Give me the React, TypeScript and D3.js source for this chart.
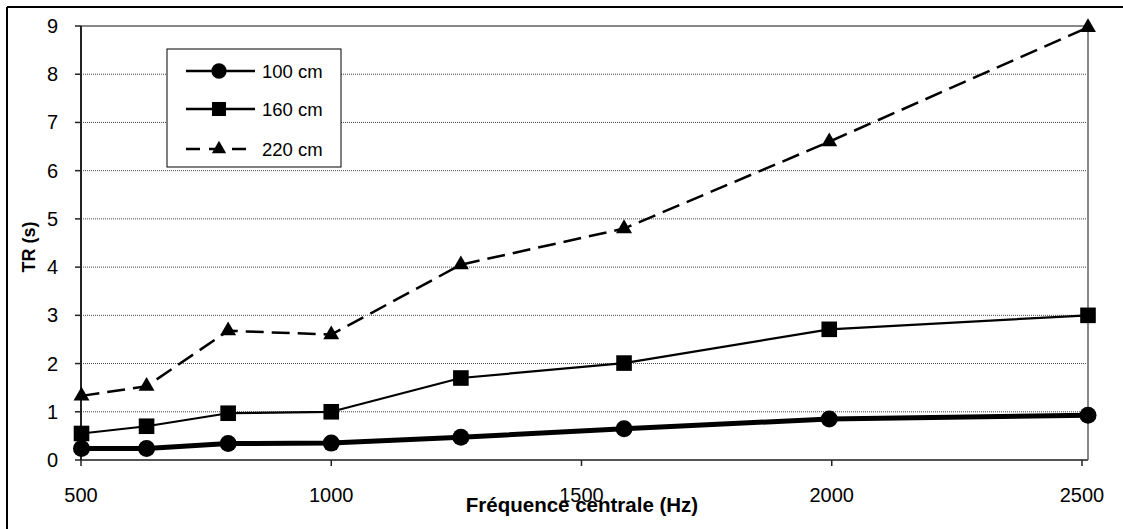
import React from "react";
import * as d3 from "d3";

const freqs = [501, 631, 794, 1000, 1259, 1585, 1995, 2512];
const s100 = [0.24, 0.24, 0.34, 0.35, 0.47, 0.65, 0.85, 0.93];
const s160 = [0.55, 0.7, 0.97, 1.0, 1.7, 2.01, 2.71, 3.0];
const s220 = [1.33, 1.53, 2.68, 2.6, 4.05, 4.8, 6.6, 8.97];
const xTicks = [500, 1000, 1500, 2000, 2500];
const yTicks = [0, 1, 2, 3, 4, 5, 6, 7, 8, 9];
const seriesNames = ["100 cm", "160 cm", "220 cm"];

const W = 1123;
const H = 529;
const L = 81, R = 1088, T = 26, B = 460;
const FONT = "Arial, 'Liberation Sans', sans-serif";

function Marker({ kind, x, y, s = 1 }: { kind: string; x: number; y: number; s?: number }) {
  if (kind === "circle") return <circle cx={x} cy={y} r={8.5 * s} fill="#000" />;
  if (kind === "square") {
    const h = 7.8 * s;
    return <rect x={x - h} y={y - h} width={2 * h} height={2 * h} fill="#000" />;
  }
  const sym = d3.symbol().type(d3.symbolTriangle).size(110 * s * s)();
  return <path d={sym || ""} transform={`translate(${x},${y})`} fill="#000" />;
}

export default function App() {
  const x = d3.scaleLinear().domain([500, 2512]).range([L, R]);
  const y = d3.scaleLinear().domain([0, 9]).range([B, T]);
  const line = d3
    .line<[number, number]>()
    .x((d) => x(d[0]))
    .y((d) => y(d[1]));

  const series = [
    { vals: s100, kind: "circle", width: 5, dash: undefined as string | undefined },
    { vals: s160, kind: "square", width: 2.2, dash: undefined },
    { vals: s220, kind: "triangle", width: 2.5, dash: "18,8" },
  ];

  const legendRows = [71, 109, 149];

  return (
    <svg
      width={W}
      height={H}
      style={{ position: "absolute", left: 0, top: 0, background: "#fff" }}
      fontFamily={FONT}
    >
      <rect x={0} y={0} width={W} height={H} fill="#fff" />
      {/* outer frame (only top/left visible) */}
      <line x1={7} y1={7} x2={W} y2={7} stroke="#000" strokeWidth={2} />
      <line x1={7} y1={7} x2={7} y2={H} stroke="#000" strokeWidth={2} />

      {/* gridlines */}
      {yTicks
        .filter((t) => t > 0 && t < 9)
        .map((t) => (
          <line
            key={"g" + t}
            x1={L}
            x2={R}
            y1={y(t)}
            y2={y(t)}
            stroke="#444"
            strokeWidth={1}
            strokeDasharray="1,1"
          />
        ))}
      {/* plot border top/right */}
      <line x1={L} x2={R} y1={T} y2={T} stroke="#888" strokeWidth={2} />
      <line x1={R} x2={R} y1={T} y2={B} stroke="#888" strokeWidth={2} />
      {/* axes */}
      <line x1={L} x2={R} y1={B} y2={B} stroke="#555" strokeWidth={2} />
      <line x1={L} x2={L} y1={T} y2={B} stroke="#222" strokeWidth={2} />

      {/* y ticks */}
      {yTicks.map((t) => (
        <g key={"y" + t}>
          <line x1={L - 6} x2={L} y1={y(t)} y2={y(t)} stroke="#222" strokeWidth={1.5} />
          <text x={58} y={y(t) + 7} textAnchor="end" fontSize={20} fill="#000">
            {t}
          </text>
        </g>
      ))}
      {/* x ticks */}
      {xTicks.map((t) => (
        <g key={"x" + t}>
          <line x1={x(t)} x2={x(t)} y1={B} y2={B + 6} stroke="#222" strokeWidth={1.5} />
          <text x={x(t)} y={502} textAnchor="middle" fontSize={20} fill="#000">
            {t}
          </text>
        </g>
      ))}

      {/* axis titles */}
      <text x={582} y={512} textAnchor="middle" fontSize={20.5} fontWeight="bold" fill="#000">
        Fréquence centrale (Hz)
      </text>
      <text
        transform={`translate(35,247) rotate(-90)`}
        textAnchor="middle"
        fontSize={18}
        fontWeight="bold"
        fill="#000"
      >
        TR (s)
      </text>

      {/* series */}
      {series.map((s, i) => {
        const pts = freqs.map((f, j) => [f, s.vals[j]] as [number, number]);
        return (
          <g key={"s" + i}>
            <path
              d={line(pts) || ""}
              fill="none"
              stroke="#000"
              strokeWidth={s.width}
              strokeDasharray={s.dash}
              strokeLinejoin="round"
            />
            {pts.map((p, j) => (
              <Marker key={j} kind={s.kind} x={x(p[0])} y={y(p[1])} />
            ))}
          </g>
        );
      })}

      {/* legend */}
      <rect x={167} y={49} width={174} height={118} fill="#fff" stroke="#000" strokeWidth={1} />
      {series.map((s, i) => (
        <g key={"l" + i}>
          <line
            x1={186}
            x2={255}
            y1={legendRows[i]}
            y2={legendRows[i]}
            stroke="#000"
            strokeWidth={2.5}
            strokeDasharray={s.dash ? "14,9" : undefined}
          />
          <Marker kind={s.kind} x={219} y={legendRows[i]} s={0.9} />
          <text x={262} y={legendRows[i] + 6.5} fontSize={18.5} fill="#000">
            {seriesNames[i]}
          </text>
        </g>
      ))}
    </svg>
  );
}
